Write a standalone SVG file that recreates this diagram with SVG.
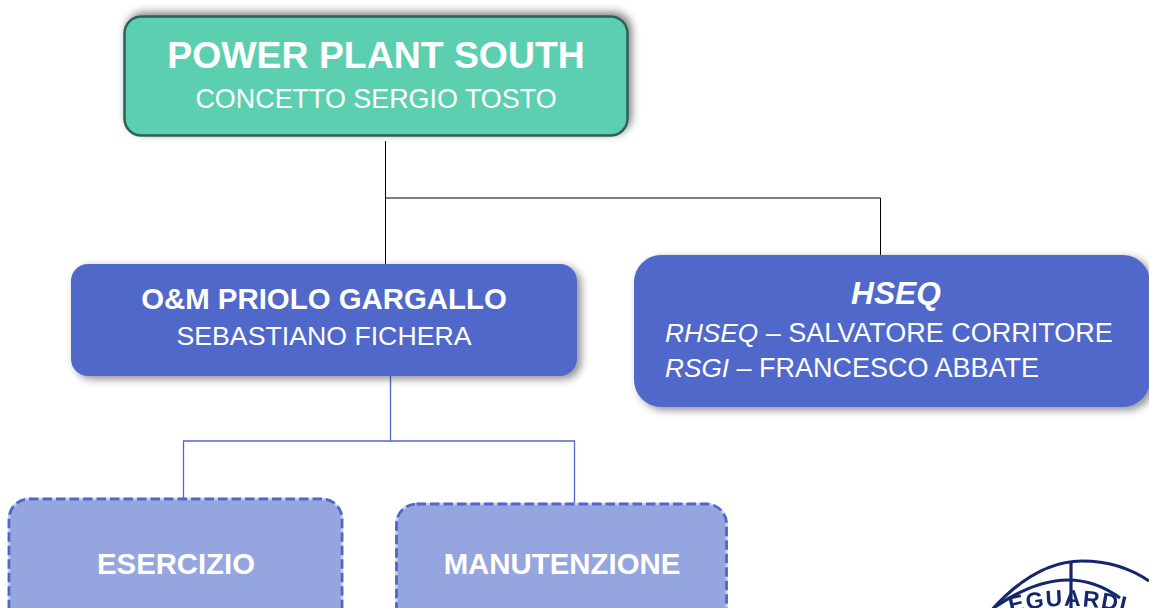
<svg xmlns="http://www.w3.org/2000/svg" width="1149" height="608" viewBox="0 0 1149 608">
<style>
text{font-family:"Liberation Sans",Arial,sans-serif;fill:#fff;text-anchor:middle}
.b{font-weight:700}
.i{font-style:italic;font-size:26.200px}
.l{text-anchor:start}
.conn{fill:none;stroke-width:1}
.blue{stroke-width:1.300}
.under{fill:#95a5df;stroke:#c4cdea;stroke-width:2.500}
.sub{fill:none;stroke:#4f67ca;stroke-width:2.800;stroke-dasharray:9.500 4}
.main{fill:#4f67ca}
</style>
<defs>
<filter id="sh1" x="-10%" y="-25%" width="120%" height="150%"><feGaussianBlur in="SourceAlpha" stdDeviation="4"/><feOffset dx="3" dy="-3"/><feComponentTransfer><feFuncA type="linear" slope="0.5"/></feComponentTransfer><feMerge><feMergeNode/><feMergeNode in="SourceGraphic"/></feMerge></filter>
<filter id="sh2" x="-10%" y="-25%" width="120%" height="150%"><feGaussianBlur in="SourceAlpha" stdDeviation="4"/><feOffset dx="4" dy="3"/><feComponentTransfer><feFuncA type="linear" slope="0.45"/></feComponentTransfer><feMerge><feMergeNode/><feMergeNode in="SourceGraphic"/></feMerge></filter>
<filter id="soft"><feGaussianBlur stdDeviation="0.500"/></filter>
<path id="stampArc" d="M988 620A235 235 0 0 1 1148 620"/>
</defs>
<g id="connectors">
<path class="conn" stroke="#000" d="M385.500 141V264M385.500 198H880.500V256"/>
<path class="conn blue" stroke="#4f67ca" d="M390.500 376V442M183.500 499V441H574.500V504"/>
</g>
<g id="node-plant">
<rect x="124.500" y="16.500" width="503" height="119" rx="17" fill="#5ccfb0" stroke="#2f5f58" stroke-width="2.500" filter="url(#sh1)"/>
<text class="b" x="376" y="68" font-size="37.400">POWER PLANT SOUTH</text>
<text x="376" y="108" font-size="26.900">CONCETTO SERGIO TOSTO</text>
</g>
<g id="node-om">
<rect class="main" x="71" y="264" width="506" height="112" rx="17" filter="url(#sh2)"/>
<text class="b" x="324" y="309" font-size="29.400">O&amp;M PRIOLO GARGALLO</text>
<text x="324" y="345" font-size="26.700">SEBASTIANO FICHERA</text>
</g>
<g id="node-hseq">
<rect class="main" x="634" y="255" width="516" height="152" rx="27" filter="url(#sh2)"/>
<text class="b" x="896" y="304" font-size="31.700" font-style="italic">HSEQ</text>
<text class="l" x="665" y="342" font-size="27"><tspan class="i">RHSEQ</tspan> – SALVATORE CORRITORE</text>
<text class="l" x="665" y="377" font-size="27"><tspan class="i">RSGI</tspan> – FRANCESCO ABBATE</text>
</g>
<g id="node-esercizio">
<rect class="under" x="9" y="499" width="333" height="130" rx="20"/>
<rect class="sub" x="9" y="499" width="333" height="130" rx="20"/>
<text class="b" x="176" y="574" font-size="29.300">ESERCIZIO</text>
</g>
<g id="node-manutenzione">
<rect class="under" x="396.500" y="504" width="330" height="125" rx="20"/>
<rect class="sub" x="396.500" y="504" width="330" height="125" rx="20"/>
<text class="b" x="562" y="574" font-size="29.400">MANUTENZIONE</text>
</g>
<g id="stamp" fill="none" stroke="#14286e" stroke-width="3.200" filter="url(#soft)">
<path d="M990 612C1020 578 1050 561 1082 561C1108 561 1130 568 1149 581"/>
<path d="M995 607C1020 590 1045 580 1068 580C1088 580 1105 587 1120 598"/>
<path d="M1071 562V608"/>
<text font-size="23" font-weight="700" letter-spacing="1.500" style="fill:#14286e;stroke:none"><textPath href="#stampArc" startOffset="50%">EGUARDI</textPath></text>
</g>
</svg>
